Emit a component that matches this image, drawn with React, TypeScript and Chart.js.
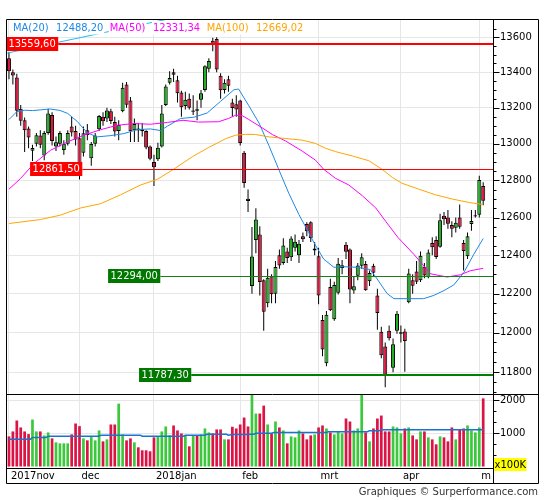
import React, { useEffect, useRef } from 'react';
import { Chart, registerables } from 'chart.js';

Chart.register(...registerables);

// ---------- DATA (DAX daily, 2017-11-07 .. 2018-05-03) ----------
const opens = [
  13480, 13400, 13370, 13195, 13130, 13085, 12962, 13000, 13045, 12935,
  13060, 13160, 12985, 13000, 12965, 13000, 13095, 13070, 13030, 12950,
  13075, 12920, 13000, 13080, 13150, 13140, 13180, 13120, 13070, 13180,
  13330, 13240, 13075, 13085, 13080, 13070, 12985, 12900, 12915, 12985,
  13215, 13340, 13400, 13355, 13285, 13210, 13250, 13178, 13192, 13245,
  13300, 13420, 13580, 13590, 13380, 13300, 13360, 13230, 13220, 13240,
  12950, 12700, 12240, 12480, 12510, 12270, 12150, 12290, 12200, 12400,
  12360, 12420, 12390, 12440, 12400, 12500, 12565, 12575, 12425, 12395,
  12065, 11845, 12235, 12068, 12205, 12333, 12455, 12430, 12216, 12293,
  12345, 12354, 12264, 12345, 12191, 12005, 11930, 12009, 11823, 12009,
  11995, 12006, 12155, 12270, 12315, 12270, 12340, 12285, 12465, 12480,
  12445, 12610, 12600, 12560, 12545, 12600, 12465, 12395, 12565, 12605,
  12615, 12770,
];
const highs = [
  13515, 13415, 13392, 13215, 13145, 13095, 12995, 13060, 13075, 13070,
  13195, 13175, 13040, 13070, 13020, 13075, 13150, 13100, 13060, 13095,
  13110, 13010, 13060, 13160, 13175, 13200, 13195, 13150, 13130, 13340,
  13345, 13260, 13140, 13115, 13115, 13075, 12990, 12940, 13005, 13215,
  13330, 13405, 13420, 13380, 13295, 13290, 13280, 13270, 13240, 13300,
  13440, 13480, 13597, 13600, 13395, 13360, 13380, 13250, 13270, 13245,
  12960, 12750, 12550, 12650, 12553, 12275, 12330, 12300, 12370, 12430,
  12490, 12440, 12500, 12510, 12480, 12520, 12575, 12580, 12470, 12440,
  12090, 12110, 12277, 12262, 12385, 12375, 12470, 12435, 12290, 12360,
  12410, 12370, 12320, 12355, 12225, 12030, 11950, 12036, 11970, 12110,
  12036, 12020, 12330, 12300, 12370, 12420, 12360, 12430, 12495, 12500,
  12620, 12630, 12640, 12580, 12600, 12670, 12480, 12520, 12640, 12640,
  12825, 12790,
];
const lows = [
  13360, 13330, 13150, 13100, 12955, 12975, 12905, 12985, 12975, 12910,
  13050, 12990, 12960, 12985, 12940, 12990, 13040, 12990, 12805, 12930,
  13020, 12880, 12985, 13070, 13100, 13120, 13110, 13040, 13020, 13175,
  13200, 13010, 13010, 13010, 13040, 12970, 12910, 12770, 12905, 12980,
  13210, 13330, 13345, 13230, 13150, 13190, 13190, 13160, 13130, 13200,
  13290, 13400, 13520, 13400, 13250, 13280, 13290, 13150, 13150, 12990,
  12760, 12630, 12200, 12410, 12190, 12010, 12130, 12150, 12150, 12330,
  12350, 12360, 12370, 12420, 12360, 12470, 12500, 12470, 12400, 12145,
  11880, 11830, 12110, 12060, 12195, 12300, 12380, 12150, 12200, 12270,
  12330, 12215, 12240, 12290, 12015, 11870, 11726, 11960, 11800, 11995,
  11950, 11803, 12150, 12200, 12250, 12260, 12280, 12280, 12400, 12380,
  12440, 12560, 12540, 12495, 12520, 12540, 12320, 12380, 12530, 12600,
  12600, 12665,
];
const closes = [
  13406, 13382, 13183, 13127, 13074, 13034, 12976, 13047, 12994, 13059,
  13168, 13015, 13009, 13060, 13000, 13060, 13062, 13024, 12861.5, 13058,
  13048, 12999, 13045, 13154, 13124, 13184, 13126, 13068, 13104, 13312,
  13216, 13069, 13110, 13073, 13070, 12980, 12918, 12871, 12978, 13168,
  13320, 13368, 13386, 13281, 13203, 13245, 13200, 13184, 13183, 13281,
  13434, 13464, 13559.6, 13415, 13298, 13340, 13324, 13198, 13190, 13004,
  12785, 12688, 12393, 12590, 12260, 12107, 12283, 12197, 12339, 12346,
  12452, 12386, 12488, 12471, 12461, 12484, 12527, 12491, 12436, 12191,
  11914, 12091, 12114, 12245, 12356, 12347, 12418, 12221, 12238, 12346,
  12390, 12217, 12307, 12309, 12100, 11886, 11787.3, 11971, 11941, 12097,
  12002, 11958, 12305, 12241, 12262, 12397, 12294, 12415, 12442, 12391,
  12586, 12591, 12567, 12540, 12572, 12551, 12422, 12500, 12581, 12612,
  12802, 12690,
];
// volume in units of 100K
const volumes = [
  910, 1060, 1390, 1180, 1060, 980, 1420, 1060, 1060, 940,
  1030, 850, 730, 700, 700, 700, 970, 1300, 1220, 850,
  790, 890, 790, 1090, 760, 820, 1270, 1270, 1900, 970,
  790, 850, 730, 580, 490, 490, 460, 880, 910, 1060,
  1210, 940, 1240, 1090, 1000, 940, 610, 940, 940, 970,
  1150, 1030, 1000, 1120, 1120, 820, 820, 1200, 1150, 1270,
  1480, 1210, 2500, 1600, 1600, 1840, 1270, 1000, 1360, 1180,
  1090, 700, 910, 880, 1090, 1000, 820, 940, 970, 1180,
  1240, 1150, 1030, 970, 1060, 1000, 1450, 1360, 1090, 1150,
  2400, 1030, 760, 1150, 1450, 1540, 1060, 1060, 1210, 1180,
  1000, 1150, 1180, 940, 820, 1060, 1060, 880, 820, 670,
  910, 880, 760, 1180, 820, 1120, 1150, 1240, 1090, 1030,
  1180, 2060,
];

// indicator lines: [index, value]
const ma20: [number, number][] = [
  [0, 13134], [2, 13178], [4, 13186], [6, 13184], [8, 13188], [10.5, 13193], [13, 13185], [15, 13168],
  [17.4, 13124], [20, 13060], [22.5, 13038], [26, 13045], [29.3, 13056], [32.7, 13078], [36.1, 13082],
  [38.7, 13073], [40.4, 13097], [43.8, 13140], [47.2, 13147], [50.6, 13171], [54, 13236], [57.4, 13301],
  [58.6, 13305], [61.2, 13211], [63.8, 13115], [66.3, 12991], [68.9, 12856], [71.4, 12730], [74, 12615],
  [76.5, 12519], [77.8, 12467], [80.3, 12380], [82.9, 12337], [85.4, 12340], [88.9, 12337], [92.2, 12325],
  [93.9, 12277], [96.5, 12200], [98.2, 12174], [101.6, 12174], [105.8, 12174], [108.4, 12191], [111, 12216],
  [113.5, 12245], [116.1, 12311], [118.6, 12405], [121, 12488.2],
];
const ma50: [number, number][] = [
  [0, 12752], [3, 12811], [6.4, 12892], [10.6, 12964], [14.9, 13010], [19.1, 13047], [23.4, 13078],
  [27.6, 13102], [31.9, 13112], [36.1, 13108], [40.4, 13118], [44.4, 13130], [48.4, 13120], [53.5, 13122],
  [56, 13140], [57.8, 13158], [59.5, 13156], [61.2, 13134], [64.6, 13088], [67.2, 13051], [70.6, 13015],
  [74.8, 12960], [78.2, 12910], [80.3, 12860], [83.3, 12811], [86.7, 12775], [90.2, 12716], [93.6, 12651],
  [96.1, 12580], [99.2, 12495], [103.3, 12405], [107.6, 12303], [111.8, 12286], [115.2, 12298],
  [117.7, 12319], [121, 12331.34],
];
const ma100: [number, number][] = [
  [0, 12568], [8, 12589], [13, 12612], [18.3, 12651], [23.4, 12674], [28.5, 12722], [33.6, 12775],
  [37.8, 12805], [42, 12860], [46.8, 12929], [51, 12980], [55.3, 13028], [57.8, 13047], [60.4, 13052],
  [62.9, 13051], [66.3, 13038], [70.6, 13029], [74.8, 13020], [78.2, 13002], [80.8, 12975], [83.3, 12957],
  [87.6, 12933], [91.8, 12907], [95.2, 12860], [97.8, 12816], [100.3, 12784], [104.6, 12752],
  [108.8, 12722], [113.1, 12699], [117.3, 12681], [121, 12669.02],
];
const volMA: [number, number][] = [
  [0, 827], [5.5, 827], [6, 877], [9.5, 877], [10, 916], [23, 916], [23.5, 946], [33.5, 946], [34, 916],
  [44.5, 916], [45, 946], [50, 946], [50.5, 975], [55.5, 975], [56, 946], [57, 965], [61, 965], [61.5, 975],
  [62.5, 975], [63, 1005], [67, 1005], [67.5, 1025], [81, 1025], [81.5, 1054], [91.5, 1054], [92, 1084],
  [94.5, 1084], [95, 1113], [121, 1113],
];
const trendLine: [number, number][] = [[-0.5, 13509], [45, 13727]];

const monthTicks = [0, 18, 37, 59, 79, 100, 120];
const monthLabels = ['2017nov', 'dec', '2018jan', 'feb', 'mrt', 'apr', 'm'];
const priceTicks = [11800, 12000, 12200, 12400, 12600, 12800, 13000, 13200, 13400, 13600];
const volumeTicks = [1000, 2000];
const volumeMinorTicks = [333.3, 666.7, 1333.3, 1666.7];

const levels = [
  { value: 13559.6, label: '13559,60', at: 5.9, box: '#ff0000', line: '#ff0000', width: 2 },
  { value: 12861.5, label: '12861,50', at: 12.05, box: '#ff0000', line: '#ff0000', width: 1 },
  { value: 12294.0, label: '12294,00', at: 31.95, box: '#007800', line: '#1a7f1a', width: 1 },
  { value: 11787.3, label: '11787,30', at: 39.85, box: '#007800', line: '#008000', width: 2 },
];
const legendItems = [
  { name: 'MA(20)', value: '12488,20', color: '#1E88E5' },
  { name: 'MA(50)', value: '12331,34', color: '#FF00FF' },
  { name: 'MA(100)', value: '12669,02', color: '#FFA500' },
];

const GREEN = '#22B022';
const RED = '#DC143C';
const VGREEN = '#3CC83C';
const VRED = '#DC1446';
const FONT_TICK = "10px 'DejaVu Sans', sans-serif";
const FONT_LABEL = "11px 'DejaVu Sans Condensed', 'Liberation Sans', sans-serif";

const overlay = {
  id: 'overlay',
  afterDatasetsDraw(chart: any) {
    const { ctx } = chart;
    const xs = chart.scales.x;
    const ys = chart.scales.y;
    ctx.save();
    ctx.font = FONT_LABEL;
    for (const lv of levels) {
      const py = Math.round(ys.getPixelForValue(lv.value));
      const cx = xs.getPixelForValue(lv.at);
      const w = ctx.measureText(lv.label).width + 5;
      const right = cx + w / 2;
      ctx.strokeStyle = lv.line;
      ctx.lineWidth = lv.width;
      const yy = lv.width % 2 === 1 ? py + 0.5 : py;
      ctx.beginPath();
      ctx.moveTo(right, yy);
      ctx.lineTo(xs.right, yy);
      ctx.stroke();
      ctx.fillStyle = lv.box;
      ctx.fillRect(cx - w / 2, py - 7, w, 14);
      ctx.fillStyle = '#ffffff';
      ctx.textAlign = 'center';
      ctx.textBaseline = 'middle';
      ctx.fillText(lv.label, cx, py + 0.5);
    }
    // legend
    let lx = 13;
    const ly = 28;
    ctx.textAlign = 'left';
    ctx.textBaseline = 'middle';
    for (const it of legendItems) {
      const parts: [string, number][] = [[it.name, 7.5], [it.value, 6.5]];
      for (const [t, gap] of parts) {
        const w = ctx.measureText(t).width;
        ctx.fillStyle = '#ffffff';
        ctx.fillRect(lx - 1, 21, w + 2, 13.5);
        ctx.fillStyle = it.color;
        ctx.fillText(t, lx, ly);
        lx += w + gap;
      }
    }
    ctx.restore();
  },
  afterDraw(chart: any) {
    const { ctx, chartArea } = chart;
    const ys = chart.scales.y;
    const vs = chart.scales.y2;
    const L = 6.5, T = chartArea.top - 0.5, R = 538.5, B = 483.5;
    const AX = chartArea.right + 0.5;
    ctx.save();
    ctx.strokeStyle = '#000';
    ctx.lineWidth = 1;
    ctx.beginPath();
    ctx.rect(L, T, R - L, B - T);
    const pd = Math.round(ys.bottom) + 0.5;
    ctx.moveTo(L, pd); ctx.lineTo(R, pd);
    const xb = Math.round(chartArea.bottom) + 0.5;
    ctx.moveTo(L, xb); ctx.lineTo(AX, xb);
    ctx.moveTo(AX, T); ctx.lineTo(AX, B);
    for (let v = 11700; v <= 13650; v += 50) {
      const p = ys.getPixelForValue(v);
      if (p < ys.top || p > ys.bottom) continue;
      const len = v % 200 === 0 ? 6 : 3;
      const yy = Math.round(p) + 0.5;
      ctx.moveTo(AX, yy); ctx.lineTo(AX + len, yy);
    }
    for (const v of volumeTicks.concat(volumeMinorTicks)) {
      const p = vs.getPixelForValue(v);
      const len = volumeTicks.includes(v) ? 6 : 3;
      const yy = Math.round(p) + 0.5;
      ctx.moveTo(AX, yy); ctx.lineTo(AX + len, yy);
    }
    ctx.stroke();
    ctx.font = FONT_TICK;
    const t = 'x100K';
    const w = ctx.measureText(t).width;
    ctx.fillStyle = '#ffff00';
    ctx.fillRect(AX + 0.5, 458, w + 1, 13);
    ctx.fillStyle = '#000';
    ctx.textAlign = 'left';
    ctx.textBaseline = 'middle';
    ctx.fillText(t, AX + 1, 465);
    ctx.restore();
  },
};

export default function App() {
  const ref = useRef<HTMLCanvasElement>(null);
  useEffect(() => {
    const canvas = ref.current;
    if (!canvas) return;
    const up = closes.map((c, i) => c >= opens[i]);
    const pts = (a: [number, number][]) => a.map(([x, y]) => ({ x, y }));
    const chart = new Chart(canvas, {
      type: 'bar',
      data: {
        datasets: [
          {
            type: 'bar', label: 'wick',
            data: closes.map((_, i) => ({ x: i, y: [lows[i], highs[i]] })) as any,
            backgroundColor: '#000', barThickness: 1, grouped: false, yAxisID: 'y', order: 5,
            inflateAmount: 0,
          } as any,
          {
            type: 'bar', label: 'body',
            data: closes.map((c, i) => ({ x: i, y: [opens[i], c] })) as any,
            backgroundColor: up.map((u) => (u ? GREEN : RED)),
            borderColor: '#000', borderWidth: 1, borderSkipped: false,
            barThickness: 4, grouped: false, yAxisID: 'y', order: 4, inflateAmount: 0,
          } as any,
          {
            type: 'bar', label: 'volume',
            data: volumes.map((v, i) => ({ x: i, y: v })) as any,
            backgroundColor: up.map((u) => (u ? VGREEN : VRED)),
            barThickness: 2.7, grouped: false, yAxisID: 'y2', order: 4, inflateAmount: 0,
          } as any,
          {
            type: 'line', label: 'volMA', data: pts(volMA) as any, borderColor: '#1874CD',
            borderWidth: 1.5, pointRadius: 0, yAxisID: 'y2', order: 1,
          } as any,
          {
            type: 'line', label: 'MA100', data: pts(ma100) as any, borderColor: '#FFA500',
            borderWidth: 1, pointRadius: 0, yAxisID: 'y', order: 1,
          } as any,
          {
            type: 'line', label: 'MA50', data: pts(ma50) as any, borderColor: '#FF00FF',
            borderWidth: 1, pointRadius: 0, yAxisID: 'y', order: 1,
          } as any,
          {
            type: 'line', label: 'MA20', data: pts(ma20) as any, borderColor: '#1E88E5',
            borderWidth: 1, pointRadius: 0, yAxisID: 'y', order: 1,
          } as any,
          {
            type: 'line', label: 'trend', data: pts(trendLine) as any, borderColor: '#1EBEF0',
            borderWidth: 1, pointRadius: 0, yAxisID: 'y', order: 1,
          } as any,
        ],
      },
      options: {
        responsive: false,
        animation: false,
        events: [],
        layout: { padding: { left: 7, top: 20, right: 7, bottom: 16 } },
        plugins: { legend: { display: false }, tooltip: { enabled: false } },
        scales: {
          x: {
            type: 'linear', min: -0.5, max: 123.5, bounds: 'data', offset: false,
            grid: { color: '#e6e6e6', drawTicks: false, offset: false },
            border: { display: false },
            ticks: {
              align: 'start', labelOffset: 2, padding: 2, autoSkip: false, maxRotation: 0, minRotation: 0,
              color: '#000', font: { family: "'DejaVu Sans', sans-serif", size: 10 },
              callback: (v: any) => { const k = monthTicks.indexOf(Number(v)); return k >= 0 ? monthLabels[k] : ''; },
            },
            afterBuildTicks: (s: any) => { s.ticks = monthTicks.map((v) => ({ value: v })); },
            afterFit: (s: any) => { s.height = 16; },
          },
          y: {
            type: 'logarithmic', position: 'right', stack: 'panels', stackWeight: 374,
            min: 11692, max: 13700, bounds: 'data', offset: false,
            grid: { color: '#e6e6e6', drawTicks: false },
            border: { display: false },
            ticks: {
              padding: 7, autoSkip: false, color: '#000',
              font: { family: "'DejaVu Sans', sans-serif", size: 10 },
              callback: (v: any) => String(v),
            },
            afterBuildTicks: (s: any) => { s.ticks = priceTicks.map((v) => ({ value: v })); },
            afterFit: (s: any) => { s.width = 45; },
          },
          y2: {
            type: 'linear', position: 'right', stack: 'panels', stackWeight: 74,
            min: -45, max: 2191, bounds: 'data', offset: false,
            grid: { color: '#e6e6e6', drawTicks: false },
            border: { display: false },
            ticks: {
              padding: 7, autoSkip: false, color: '#000',
              font: { family: "'DejaVu Sans', sans-serif", size: 10 },
              callback: (v: any) => String(v),
            },
            afterBuildTicks: (s: any) => { s.ticks = volumeTicks.map((v) => ({ value: v })); },
            afterFit: (s: any) => { s.width = 45; },
          },
        },
      } as any,
      plugins: [overlay],
    });
    return () => chart.destroy();
  }, []);

  return (
    <div style={{ position: 'absolute', left: 0, top: 0, width: 545, height: 500, background: '#fff' }}>
      <canvas ref={ref} width={545} height={500} style={{ position: 'absolute', left: 0, top: 0 }} />
      <div
        style={{
          position: 'absolute', top: 485, right: 7, whiteSpace: 'nowrap',
          font: "10px 'DejaVu Sans', sans-serif", lineHeight: '13px', color: '#333',
        }}
      >
        Graphiques © Surperformance.com
      </div>
    </div>
  );
}
